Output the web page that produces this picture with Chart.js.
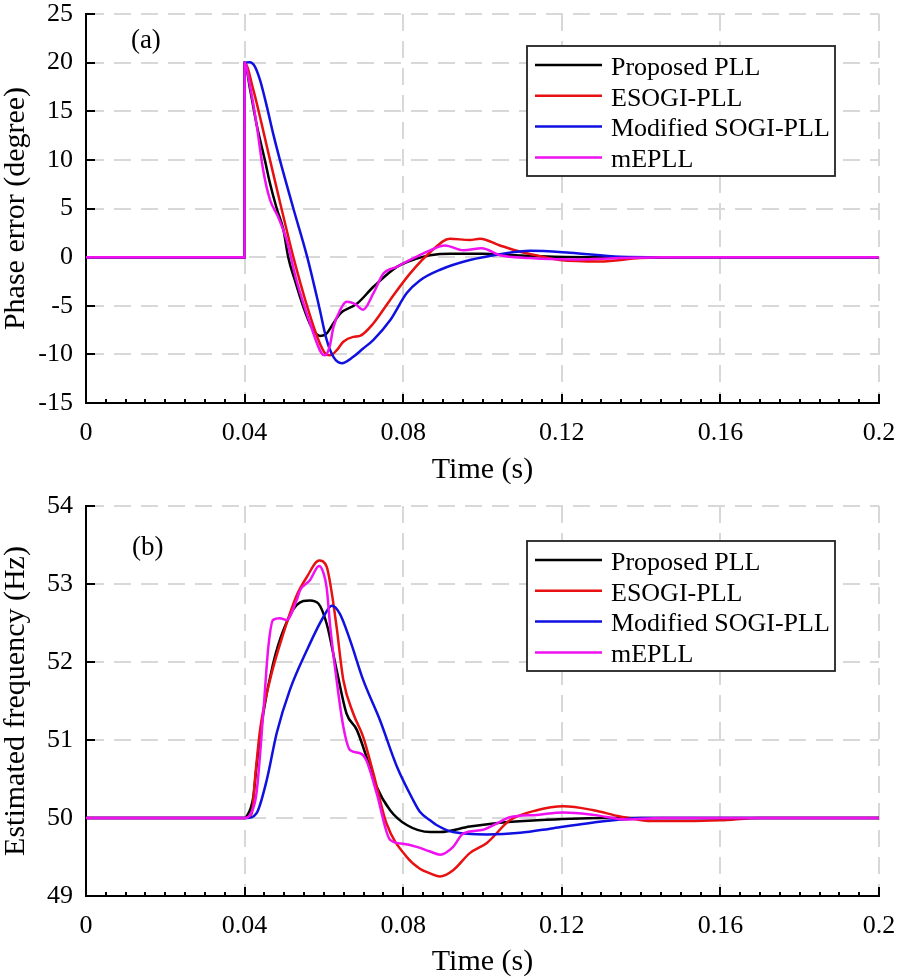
<!DOCTYPE html>
<html><head><meta charset="utf-8">
<script src="https://cdn.jsdelivr.net/npm/chart.js@4.4.1/dist/chart.umd.min.js"></script>
<style>
html,body{margin:0;padding:0;background:#fff;width:904px;height:980px;overflow:hidden}
canvas{position:absolute;left:0}
#c1{top:0}
#c2{top:490px}
</style></head><body>
<canvas id="c1" width="904" height="490"></canvas>
<canvas id="c2" width="904" height="490"></canvas>
<script>
// ---------- data ----------
const seriesNames = ['Proposed PLL', 'ESOGI-PLL', 'Modified SOGI-PLL', 'mEPLL'];
const seriesColors = ['#000000', '#e81010', '#1010e0', '#f010f0'];

const timeTicks = [0, 0.04, 0.08, 0.12, 0.16, 0.2];
const timeTickLabels = ['0', '0.04', '0.08', '0.12', '0.16', '0.2'];
const timeMinorStep = 0.005;
const phaseTicks = [-15, -10, -5, 0, 5, 10, 15, 20, 25];
const freqTicks = [49, 50, 51, 52, 53, 54];

// (a) phase error, degree  (step at t = 0.04 s)
const tPhaseProposed = [0, 0.02, 0.04, 0.04001, 0.0414, 0.043, 0.0451, 0.0464, 0.0481, 0.0498, 0.051, 0.0527, 0.0548, 0.0569, 0.059, 0.0603, 0.0624, 0.0641, 0.0683, 0.0725, 0.0784, 0.0834, 0.0868, 0.092, 0.1, 0.108, 0.118, 0.13, 0.2];
const phaseProposed = [0, 0, 0, 20, 17.2, 13.7, 10, 7.6, 5, 2.8, 0, -2.4, -5.1, -7.2, -8.1, -8.0, -6.8, -5.8, -4.8, -3.05, -1.0, -0.15, 0.2, 0.35, 0.35, 0.2, 0.05, 0, 0];

const tPhaseEsogi = [0, 0.02, 0.04, 0.04001, 0.0422, 0.0443, 0.0464, 0.0493, 0.0523, 0.0558, 0.0586, 0.0603, 0.0615, 0.0632, 0.0649, 0.0674, 0.0691, 0.0725, 0.0767, 0.0817, 0.0868, 0.0918, 0.0968, 0.0994, 0.1044, 0.1095, 0.1145, 0.1195, 0.1296, 0.1397, 0.15, 0.2];
const phaseEsogi = [0, 0, 0, 20, 17.2, 13.7, 10, 5, 0, -5.1, -8.5, -9.9, -10.1, -9.6, -8.7, -8.2, -8.1, -6.8, -4.4, -1.7, 0.5, 1.9, 1.75, 1.9, 1.2, 0.55, 0.1, -0.3, -0.45, -0.1, 0, 0];

const tPhaseModSogi = [0, 0.02, 0.04, 0.04001, 0.0413, 0.0426, 0.0439, 0.0456, 0.0472, 0.0489, 0.0523, 0.0558, 0.0588, 0.0607, 0.0624, 0.0645, 0.0674, 0.0699, 0.0725, 0.0767, 0.0809, 0.0842, 0.0893, 0.0968, 0.1044, 0.112, 0.1221, 0.1347, 0.145, 0.2];
const phaseModSogi = [0, 0, 0, 20, 20.05, 19.6, 18.2, 15.5, 12.7, 10, 5, 0, -5.1, -8.5, -10.25, -10.9, -10.25, -9.4, -8.5, -6.5, -3.7, -2.4, -1.3, -0.3, 0.3, 0.65, 0.45, 0.05, 0, 0];

const tPhaseMepll = [0, 0.02, 0.04, 0.04001, 0.0414, 0.043, 0.0447, 0.0464, 0.0485, 0.0506, 0.0531, 0.0565, 0.0594, 0.0603, 0.0615, 0.0624, 0.0641, 0.0657, 0.0678, 0.0699, 0.0725, 0.075, 0.0784, 0.08, 0.0868, 0.0905, 0.0952, 0.0998, 0.1044, 0.112, 0.122, 0.135, 0.145, 0.2];
const phaseMepll = [0, 0, 0, 20, 17.5, 13.7, 8.9, 5.9, 4.1, 1.75, -2.4, -6.8, -9.9, -10.1, -9.1, -7.2, -5.45, -4.6, -4.8, -5.4, -3.7, -1.7, -1.0, -0.65, 0.7, 1.2, 0.7, 0.9, 0.2, -0.1, -0.25, -0.1, 0, 0];

// (b) estimated frequency, Hz
const tFreqProposed = [0, 0.02, 0.04, 0.0405, 0.0422, 0.043, 0.0447, 0.0472, 0.0498, 0.0531, 0.0565, 0.0586, 0.0607, 0.0632, 0.0657, 0.0683, 0.0707, 0.0733, 0.0767, 0.0809, 0.0868, 0.0893, 0.0968, 0.1044, 0.1137, 0.122, 0.13, 0.2];
const freqProposed = [50, 50, 50, 50.02, 50.27, 50.66, 51.34, 51.98, 52.41, 52.73, 52.79, 52.75, 52.49, 51.9, 51.34, 51.13, 50.79, 50.4, 50.1, 49.91, 49.82, 49.82, 49.89, 49.94, 49.97, 49.99, 50, 50];

const tFreqEsogi = [0, 0.02, 0.04, 0.0418, 0.0426, 0.0439, 0.0464, 0.0498, 0.0531, 0.0557, 0.0588, 0.0607, 0.062, 0.0632, 0.0649, 0.0674, 0.0699, 0.0725, 0.0758, 0.0809, 0.0842, 0.0868, 0.0893, 0.0926, 0.0968, 0.1011, 0.1069, 0.1137, 0.1204, 0.128, 0.1347, 0.143, 0.1515, 0.16, 0.17, 0.2];
const freqEsogi = [50, 50, 50, 50.06, 50.49, 51.13, 51.77, 52.37, 52.85, 53.09, 53.3, 53.22, 52.88, 52.45, 51.77, 51.34, 51.04, 50.57, 49.93, 49.5, 49.35, 49.29, 49.25, 49.33, 49.55, 49.68, 49.97, 50.1, 50.15, 50.1, 50.02, 49.96, 49.96, 49.97, 50, 50];

const tFreqModSogi = [0, 0.02, 0.0405, 0.043, 0.0456, 0.0481, 0.0514, 0.0557, 0.0599, 0.062, 0.064, 0.0666, 0.0699, 0.0741, 0.0784, 0.0825, 0.0842, 0.0868, 0.0884, 0.0926, 0.1011, 0.1095, 0.1179, 0.1263, 0.1347, 0.14, 0.2];
const freqModSogi = [50, 50, 50, 50.06, 50.49, 51.09, 51.64, 52.15, 52.58, 52.72, 52.62, 52.28, 51.77, 51.26, 50.66, 50.23, 50.08, 49.97, 49.91, 49.82, 49.79, 49.81, 49.87, 49.93, 49.98, 50, 50];

const tFreqMepll = [0, 0.02, 0.04, 0.0415, 0.043, 0.0447, 0.046, 0.0472, 0.0489, 0.0506, 0.0531, 0.054, 0.0565, 0.0588, 0.0599, 0.0607, 0.0616, 0.0632, 0.0649, 0.0666, 0.0691, 0.0707, 0.0733, 0.0767, 0.08, 0.0834, 0.0868, 0.0893, 0.0926, 0.0951, 0.1002, 0.1036, 0.1069, 0.1137, 0.1204, 0.128, 0.1364, 0.145, 0.2];
const freqMepll = [50, 50, 50, 50.05, 50.32, 51.34, 52.2, 52.54, 52.56, 52.54, 52.79, 52.92, 53.05, 53.23, 53.14, 52.95, 52.45, 51.77, 51.17, 50.87, 50.83, 50.74, 50.32, 49.72, 49.67, 49.63, 49.57, 49.53, 49.63, 49.8, 49.85, 49.93, 50.01, 50.04, 50.07, 50.04, 49.98, 50, 50];

// ---------- rendering ----------
const FAMILY = '"Liberation Serif", "Times New Roman", Tinos, serif';
Chart.defaults.font.family = FAMILY;
Chart.defaults.color = '#000';
const zip = (ts, vs) => ts.map((t, i) => ({x: t, y: vs[i]}));
const noPad = s => { s.paddingTop = 0; s.paddingBottom = 0; s.paddingLeft = 0; s.paddingRight = 0; };

const decoPlugin = {
  id: 'deco',
  beforeDatasetsDraw(chart, args, opts) {
    const {ctx, chartArea: a, scales: {x, y}} = chart;
    ctx.save();
    ctx.strokeStyle = '#000';
    ctx.lineWidth = 2;
    ctx.beginPath();
    const nMinor = Math.round((x.max - x.min) / timeMinorStep);
    for (let i = 0; i <= nMinor; i++) {
      const v = x.min + i * timeMinorStep;
      const major = timeTicks.some(t => Math.abs(t - v) < 1e-9);
      const px = Math.round(x.getPixelForValue(v));
      ctx.moveTo(px, a.bottom);
      ctx.lineTo(px, a.bottom - (major ? 9 : 4));
    }
    for (const v of opts.yTicks) {
      const py = Math.round(y.getPixelForValue(v));
      ctx.moveTo(a.left, py);
      ctx.lineTo(a.left + 9, py);
    }
    ctx.stroke();
    ctx.restore();
  },
  afterDatasetsDraw(chart, args, opts) {
    const {ctx, chartArea: a, scales: {x, y}} = chart;
    ctx.save();
    ctx.fillStyle = '#000';
    ctx.font = '27px ' + FAMILY;
    ctx.textAlign = 'center';
    ctx.textBaseline = 'middle';
    ctx.fillText(opts.panel, x.getPixelForValue(opts.panelX), y.getPixelForValue(opts.panelY));
    const bx = a.right - 352, by = a.top + opts.legendDy, bw = 308, bh = 130;
    ctx.fillStyle = '#fff';
    ctx.fillRect(bx, by, bw, bh);
    ctx.strokeStyle = '#222';
    ctx.lineWidth = 1.8;
    ctx.strokeRect(bx, by, bw, bh);
    ctx.textAlign = 'left';
    ctx.font = '26px ' + FAMILY;
    seriesNames.forEach((name, i) => {
      const ry = by + 19 + i * 30.8;
      ctx.strokeStyle = seriesColors[i];
      ctx.lineWidth = 2.5;
      ctx.beginPath();
      ctx.moveTo(bx + 8, ry);
      ctx.lineTo(bx + 75, ry);
      ctx.stroke();
      ctx.fillStyle = '#000';
      ctx.fillText(name, bx + 84, ry + 3);
    });
    ctx.restore();
  }
};

function makeChart(id, cfg) {
  const datasets = cfg.series.map((s, i) => ({
    label: seriesNames[i],
    data: zip(s[0], s[1]),
    borderColor: seriesColors[i],
    borderWidth: 2.5,
    pointRadius: 0,
    fill: false,
    cubicInterpolationMode: 'monotone',
    order: 3 - i
  }));
  return new Chart(document.getElementById(id), {
    type: 'line',
    data: {datasets},
    options: {
      responsive: false,
      animation: false,
      devicePixelRatio: 1,
      layout: {padding: {top: cfg.padTop, right: 25, left: 0, bottom: 0}, autoPadding: false},
      plugins: {
        legend: {display: false},
        tooltip: {enabled: false},
        deco: {yTicks: cfg.yTicks, panel: cfg.panel, panelX: cfg.panelX, panelY: cfg.panelY, legendDy: cfg.legendDy}
      },
      scales: {
        x: {
          type: 'linear', min: 0, max: 0.2,
          afterBuildTicks: s => { s.ticks = timeTicks.map(v => ({value: v})); },
          afterFit: s => { s.height = cfg.xHeight; noPad(s); },
          ticks: {color: '#000', font: {family: FAMILY, size: 26}, padding: 15, maxRotation: 0, autoSkip: false,
                  callback: v => timeTickLabels[timeTicks.indexOf(v)]},
          grid: {color: '#d8d8d8', lineWidth: 2, drawTicks: false},
          border: {display: true, color: '#000', width: 2, dash: [17, 10]},
          title: {display: true, text: 'Time (s)', color: '#000', font: {family: FAMILY, size: 30}, padding: {top: 0, bottom: cfg.xTitlePad}}
        },
        y: {
          type: 'linear', min: cfg.yTicks[0], max: cfg.yTicks[cfg.yTicks.length - 1],
          afterBuildTicks: s => { s.ticks = cfg.yTicks.map(v => ({value: v})); },
          afterFit: s => { s.width = 86; noPad(s); },
          ticks: {color: '#000', font: {family: FAMILY, size: 26}, padding: 13, autoSkip: false,
                  callback: v => String(v)},
          grid: {color: '#d8d8d8', lineWidth: 2, drawTicks: false},
          border: {display: true, color: '#000', width: 2, dash: [17, 10]},
          title: {display: true, text: cfg.yTitle, color: '#000', font: {family: FAMILY, size: 30, lineHeight: 1.1}, padding: {top: 0, bottom: 0}}
        }
      }
    },
    plugins: [decoPlugin]
  });
}

makeChart('c1', {
  series: [[tPhaseProposed, phaseProposed], [tPhaseEsogi, phaseEsogi], [tPhaseModSogi, phaseModSogi], [tPhaseMepll, phaseMepll]],
  yTicks: phaseTicks, yTitle: 'Phase error (degree)',
  padTop: 14, xHeight: 87, xTitlePad: 2,
  panel: '(a)', panelX: 0.0151, panelY: 22.2, legendDy: 32
});
makeChart('c2', {
  series: [[tFreqProposed, freqProposed], [tFreqEsogi, freqEsogi], [tFreqModSogi, freqModSogi], [tFreqMepll, freqMepll]],
  yTicks: freqTicks, yTitle: 'Estimated frequency (Hz)',
  padTop: 16, xHeight: 84, xTitlePad: 0,
  panel: '(b)', panelX: 0.0156, panelY: 53.46, legendDy: 35
});
</script>
</body></html>
